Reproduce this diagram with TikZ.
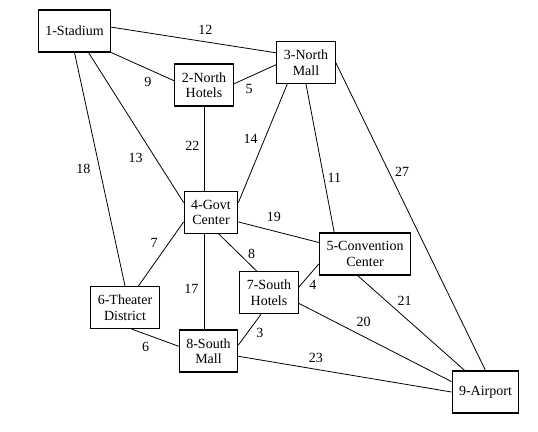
\documentclass[tikz,border=0pt]{standalone}
\usepackage{fontspec}
\setmainfont{Liberation Serif}
\usetikzlibrary{positioning}

\begin{document}
\begin{tikzpicture}[on grid,every node/.style={font=\fontsize{14}{15.5}\selectfont},every edge/.style={draw,line width=0.8pt}]
\tikzstyle{stop}=[fill=white,shape=rectangle,draw,line width=1.1pt,text=black,align=center,minimum height=42pt,inner xsep=7pt]
\tikzstyle{lbl}=[inner sep=1pt]

\useasboundingbox (0,0) rectangle (538pt,-431pt);

\node[stop]        (n1) at (74.5pt,-31pt)                 {1-Stadium};
\node[stop]        (n2) [below right=54pt and 129.5pt of n1] {2-North\\Hotels};
\node[stop]        (n3) [above right=22.5pt and 102pt of n2] {3-North\\Mall};
\node[stop]        (n4) [below right=127.5pt and 7pt of n2]  {4-Govt\\Center};
\node[stop]        (n5) [below right=41.5pt and 154pt of n4] {5-Convention\\Center};
\node[stop]        (n6) [below left=95pt and 86pt of n4]     {6-Theater\\District};
\node[stop]        (n7) [below right=80pt and 58pt of n4]    {7-South\\Hotels};
\node[stop]        (n8) [below left=138.5pt and 2.5pt of n4] {8-South\\Mall};
\node[stop]        (n9) [below right=41pt and 277pt of n8]   {9-Airport};

\path
(n1.south east) edge node[lbl,pos=.58,below=6.5pt] {9} (n2.172)
(n1.6) edge node[lbl,pos=.57,above=6pt] {12} (n3.162)
(n1.-57) edge node[lbl,pos=.63,below left=6.4pt] {13} (n4.160)
(n1.south) edge node[lbl,pos=.5,left=8pt] {18} (n6.north)
(n2.2) edge node[lbl,pos=.36,below=6.4pt] {5} (n3.184)
(n2.south) edge node[lbl,pos=.47,left=3.3pt] {22} (n2.south |- n4.north)
(n3.229) edge node[lbl,pos=.46,left=5.8pt] {14} (n4.20)
(n3.south) edge node[lbl,pos=.63,right=2.4pt] {11} (n5.145)
(n3.east) edge node[lbl,pos=.354,right=4.9pt] {27} (n9.north)
(n4.-19) edge node[lbl,pos=.44,above=8pt] {19} (n5.166)
(n4.199) edge node[lbl,pos=.475,above left=4.6pt] {7} (n6.58.6)
(n4.-70.6) edge node[lbl,pos=.72,above right=1.2pt] {8} (n7.120.6)
(n4.south -| n2.south) edge node[lbl,pos=.57,left=4.3pt] {17} (n8.north -| n2.south)
(n5.192) edge node[lbl,pos=.59,below right=1.2pt] {4} (n7.10)
(n5.251) edge node[lbl,pos=.344,above right=2.4pt] {21} (n9.134.3)
(n6.-73.5) edge node[lbl,pos=.47,below left=4.7pt] {6} (n8.171.6)
(n7.250.7) edge node[lbl,pos=.35,below right=2.7pt] {3} (n8.11.4)
(n7.-20) edge node[lbl,pos=.35,above right=4.3pt] {20} (n9.163)
(n8.-10.8) edge node[lbl,pos=.364,above=5.4pt] {23} (n9.west)
;
\end{tikzpicture}
\end{document}
